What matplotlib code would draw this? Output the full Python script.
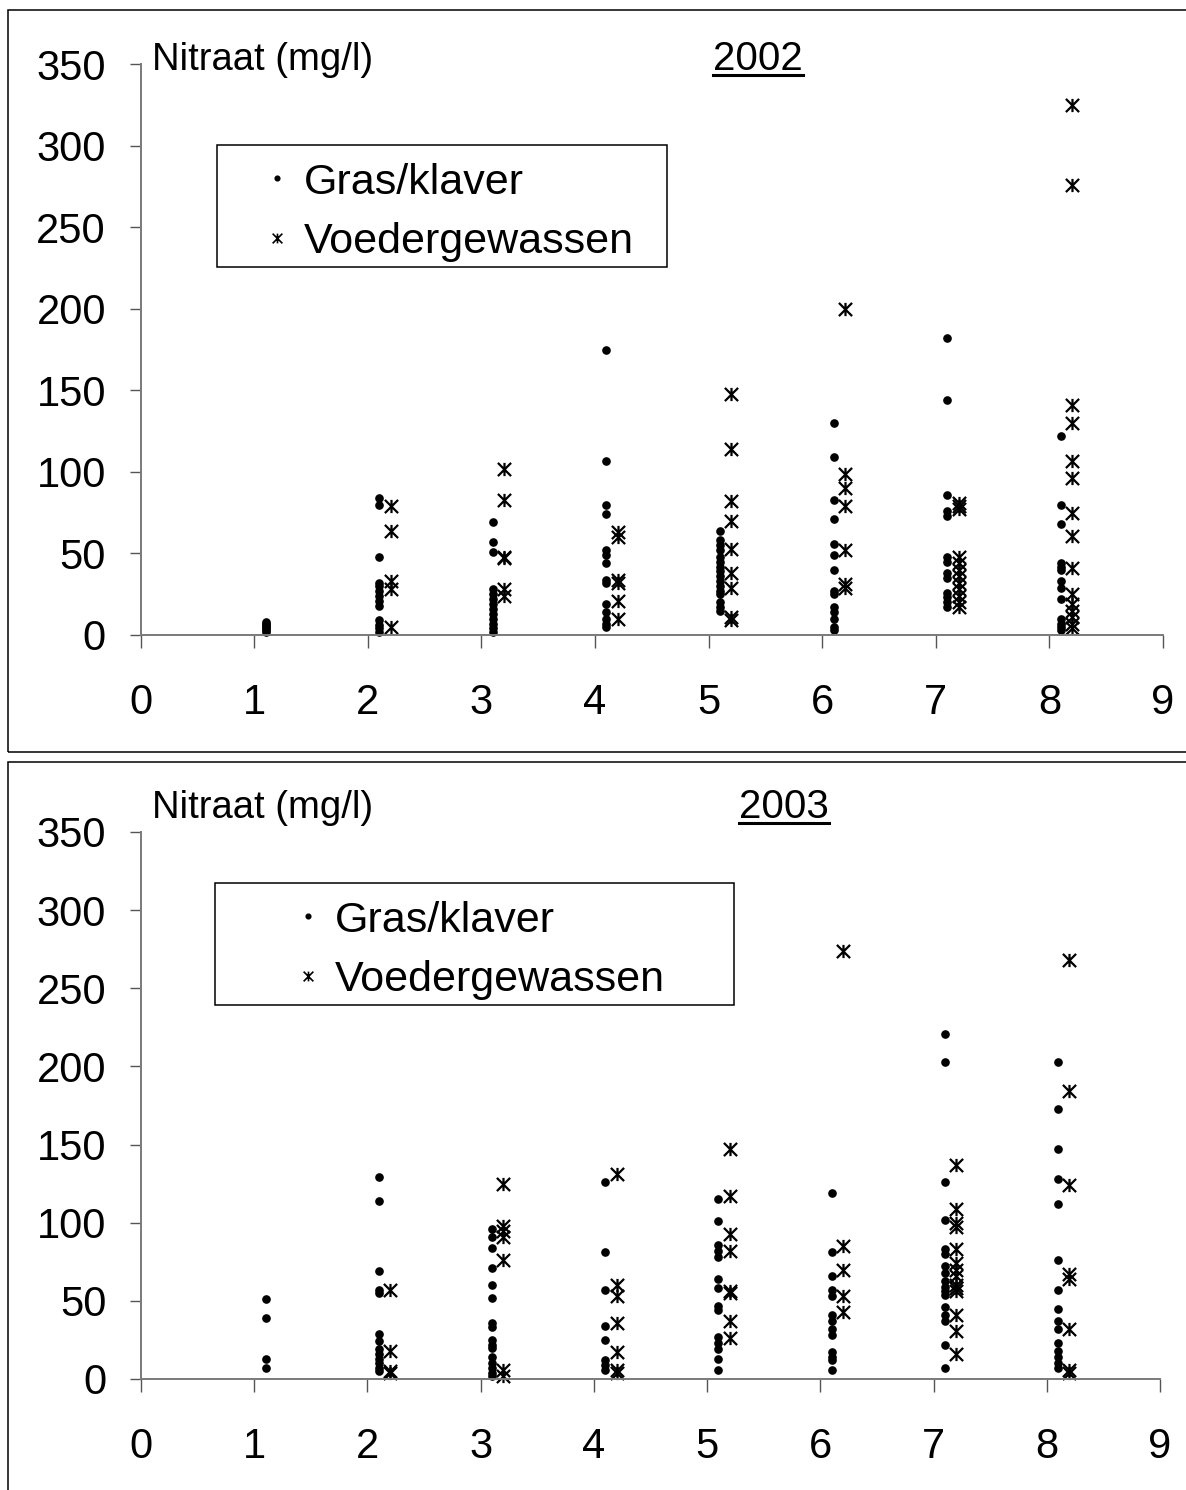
import matplotlib
matplotlib.use("Agg")
import matplotlib.pyplot as plt
from matplotlib.path import Path
from matplotlib.patches import Rectangle
from matplotlib.lines import Line2D

plt.rcParams['font.family'] = ['Liberation Sans', 'DejaVu Sans']

# categories on the x axis
plots = [1, 2, 3, 4, 5, 6, 7, 8]
years = ['2002', '2003']

# nitrate (mg/l), Gras/klaver, per category - 2002
gras_2002 = [
    [2, 3, 4, 5, 6, 7, 8],
    [84, 80, 48, 32, 30, 27, 24, 21, 18, 9, 6, 4, 2],
    [69, 57, 51, 28, 25, 22, 19, 16, 13, 10, 7, 4, 2],
    [175, 107, 80, 74, 52, 49, 44, 34, 32, 19, 14, 10, 7, 5],
    [64, 58, 55, 52, 48, 45, 42, 39, 36, 33, 30, 27, 25, 20, 17, 15],
    [130, 109, 83, 71, 56, 49, 40, 27, 25, 17, 14, 10, 5, 3],
    [182, 144, 86, 76, 73, 48, 45, 38, 35, 26, 23, 20, 17],
    [122, 80, 68, 44, 42, 40, 33, 29, 22, 10, 7, 5, 3],
]
# Voedergewassen - 2002
voeder_2002 = [
    [],
    [79, 64, 33, 28, 5],
    [102, 83, 48, 47, 28, 24],
    [63, 60, 34, 32, 21, 10],
    [148, 114, 82, 70, 53, 38, 29, 11, 9],
    [200, 99, 90, 79, 52, 31, 29],
    [81, 79, 77, 48, 44, 40, 36, 32, 28, 24, 20, 17],
    [325, 276, 141, 130, 107, 96, 75, 61, 41, 25, 19, 15, 11, 7, 4],
]
# Gras/klaver - 2003
gras_2003 = [
    [51, 39, 13, 7],
    [129, 114, 69, 57, 55, 29, 24, 19, 16, 13, 10, 7, 5],
    [96, 91, 84, 71, 60, 52, 36, 33, 25, 22, 20, 14, 10, 7, 4, 2],
    [126, 81, 57, 34, 25, 12, 9, 6],
    [115, 101, 86, 82, 78, 64, 58, 47, 44, 27, 23, 19, 13, 6],
    [119, 81, 66, 57, 53, 41, 37, 32, 28, 17, 14, 12, 6],
    [221, 203, 126, 102, 83, 80, 72, 68, 63, 59, 56, 54, 46, 41, 37, 22, 7],
    [203, 173, 147, 128, 112, 76, 57, 45, 37, 32, 23, 18, 14, 10, 7],
]
# Voedergewassen - 2003
voeder_2003 = [
    [],
    [57, 18, 5, 4],
    [125, 98, 95, 91, 76, 6, 2],
    [131, 60, 53, 36, 17, 6, 4],
    [147, 117, 93, 82, 56, 55, 37, 26],
    [274, 85, 70, 53, 43],
    [137, 109, 100, 97, 83, 74, 70, 66, 60, 58, 56, 41, 31, 16],
    [268, 184, 124, 67, 64, 32, 6, 4],
]

W, H = 1186, 1490
fig = plt.figure(figsize=(W / 100, H / 100), dpi=100)


def fx(x):
    return x / W


def fy(y):
    return 1 - y / H


# excel style star: an x with a vertical stroke
star = Path([(-1, -1), (1, 1), (-1, 1), (1, -1), (0, -1), (0, 1)],
            [Path.MOVETO, Path.LINETO] * 3)

panels = [
    # axes px box (x0, x9, y0, y350), legend box (l, t, r, b), panel frame, handle x, text x
    dict(year=years[0], gras=gras_2002, voeder=voeder_2002,
         ax=(140.7, 1163.1, 635, 64.3), leg=(217, 145, 667, 267),
         frame=(8, 10, 1200, 752), hx=277, tx=304, title_y=70),
    dict(year=years[1], gras=gras_2003, voeder=voeder_2003,
         ax=(141, 1160, 1379, 832), leg=(215, 883, 734, 1005),
         frame=(8, 762, 1200, 1510), hx=308, tx=335, title_y=818),
]

renderer = fig.canvas.get_renderer()

for p in panels:
    x0, x9, y0, y350 = p['ax']
    ax = fig.add_axes([fx(x0), fy(y0), fx(x9) - fx(x0), fy(y350) - fy(y0)])
    ax.set_xlim(0, 9)
    ax.set_ylim(0, 350)

    for i, k in enumerate(plots):
        g = p['gras'][i]
        v = p['voeder'][i]
        ax.plot([k + 0.1] * len(g), g, linestyle='none', marker='o', ms=5.2,
                color='black', clip_on=False)
        if v:
            ax.plot([k + 0.2] * len(v), v, linestyle='none', marker=star, ms=9.5,
                    mfc='none', mec='black', mew=1.6, clip_on=False)

    for s in ['top', 'right']:
        ax.spines[s].set_visible(False)
    for s in ['left', 'bottom']:
        ax.spines[s].set_color('#7a7a7a')
        ax.spines[s].set_linewidth(1.4)
    ax.set_xticks(range(0, 10))
    ax.set_yticks(range(0, 351, 50))
    ax.tick_params(axis='x', direction='out', length=9.5, width=1, color='#555555',
                   labelsize=30, pad=25)
    ax.tick_params(axis='y', direction='out', length=8, width=1, color='#555555',
                   labelsize=30, pad=17)

    # legend
    l, t, r, b = p['leg']
    fig.add_artist(Rectangle((fx(l), fy(b)), fx(r) - fx(l), fy(t) - fy(b),
                             transform=fig.transFigure, fill=False,
                             edgecolor='black', linewidth=1.1))
    rows = [(t + 33, 'Gras/klaver', 'o', 3.4, 'black', 'black', 1.0),
            (t + 93, 'Voedergewassen', star, 7, 'none', 'black', 1.2)]
    for ry, label, mk, ms, mfc, mec, mew in rows:
        fig.add_artist(Line2D([fx(p['hx'])], [fy(ry)], transform=fig.transFigure,
                              linestyle='none', marker=mk, ms=ms, mfc=mfc, mec=mec,
                              mew=mew))
        fig.text(fx(p['tx']), fy(ry), label, fontsize=31, ha='left',
                 va='center_baseline')

    # titles
    fig.text(fx(152), fy(p['title_y']), 'Nitraat (mg/l)', fontsize=27.5,
             ha='left', va='baseline')
    yt = fig.text(fx(758 if p['year'] == '2002' else 784), fy(p['title_y']),
                  p['year'], fontsize=29, ha='center', va='baseline')
    bb = yt.get_window_extent(renderer)
    uy = fy(p['title_y'] + 5)
    fig.add_artist(Line2D([bb.x0 / W, bb.x1 / W], [uy, uy], transform=fig.transFigure,
                          color='black', linewidth=2.2))

    # chart frame
    fl, ft, fr, fb = p['frame']
    fig.add_artist(Rectangle((fx(fl), fy(fb)), fx(fr) - fx(fl), fy(ft) - fy(fb),
                             transform=fig.transFigure, fill=False,
                             edgecolor='black', linewidth=1.1, clip_on=False))

fig.savefig('out.png', dpi=100)
